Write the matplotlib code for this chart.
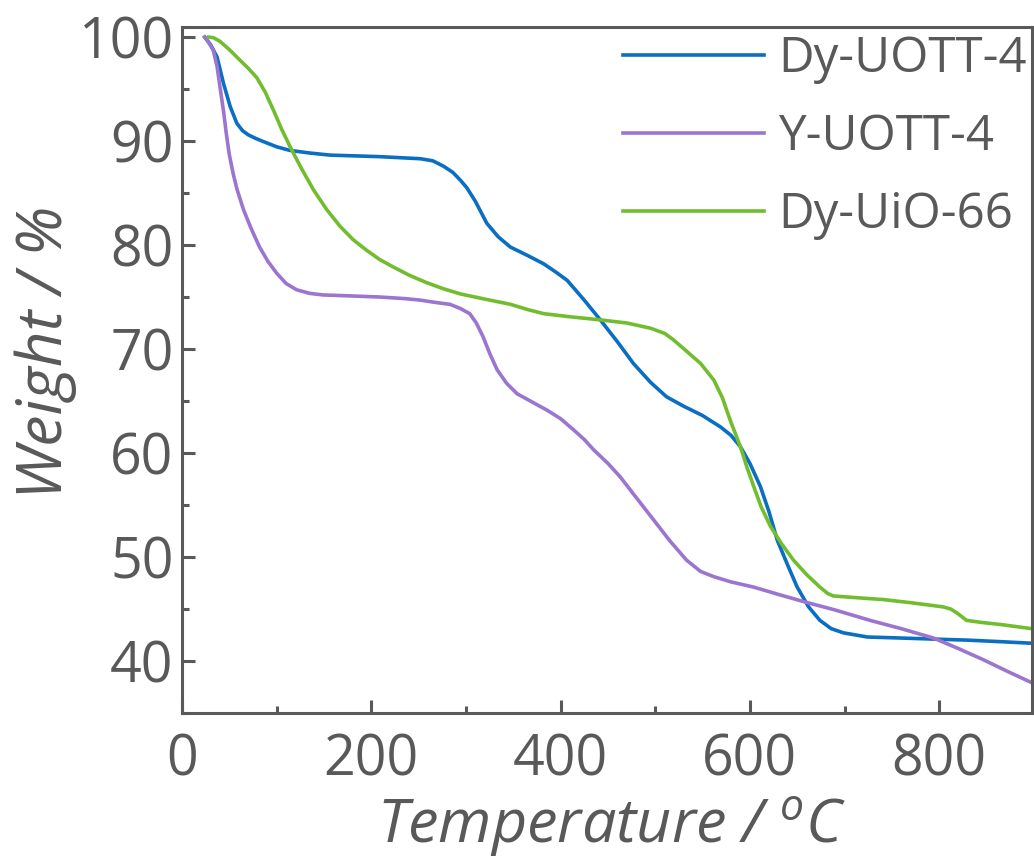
import numpy as np
import matplotlib
matplotlib.use('Agg')
from matplotlib import pyplot as plt
from matplotlib.ticker import MultipleLocator

plt.rcParams['font.family'] = ['Open Sans', 'DejaVu Sans']
plt.rcParams['mathtext.fontset'] = 'custom'
plt.rcParams['mathtext.it'] = 'Open Sans:italic'
plt.rcParams['mathtext.rm'] = 'Open Sans'

GRAY = '#595959'

# Dy-UOTT-4
dy_uott_t = [24, 30, 37, 44, 51, 58, 64, 70, 78, 86, 100, 114, 135, 156, 209, 252, 265, 276, 286, 294,
             301, 310, 322, 334, 347, 365, 382, 395, 407, 425, 442, 460, 477, 495, 512, 530, 550, 569,
             580, 590, 600, 611, 620, 629, 640, 650, 662, 674, 686, 699, 724, 760, 794, 830, 865, 898]
dy_uott_w = [100, 99.3, 98.1, 95.5, 93.3, 91.7, 91.0, 90.6, 90.25, 89.95, 89.45, 89.1, 88.85, 88.65, 88.5,
             88.3, 88.1, 87.6, 87, 86.25, 85.5, 84.2, 82.1, 80.8, 79.8, 79, 78.2, 77.4, 76.6, 74.7, 72.8,
             70.7, 68.6, 66.8, 65.4, 64.5, 63.6, 62.5, 61.7, 60.6, 59, 56.8, 54.4, 51.6, 49.2, 47.1, 45.2,
             43.9, 43.1, 42.7, 42.3, 42.2, 42.1, 42, 41.85, 41.7]

# Y-UOTT-4
y_uott_t = [24, 28, 33, 37, 40, 44, 47, 50, 54, 58, 65, 73, 82, 91, 100, 110, 121, 135, 149, 180, 209,
            235, 252, 270, 283, 294, 304, 311, 318, 325, 333, 343, 354, 370, 386, 400, 414, 425, 435,
            450, 463, 480, 498, 515, 533, 548, 562, 580, 604, 630, 657, 690, 727, 760, 794, 820, 847,
            872, 898]
y_uott_w = [100, 99.5, 98.75, 97.2, 95.3, 92.8, 90.6, 88.7, 86.9, 85.4, 83.4, 81.6, 79.8, 78.4, 77.3,
            76.3, 75.7, 75.35, 75.2, 75.1, 75.0, 74.85, 74.7, 74.45, 74.3, 73.9, 73.4, 72.5, 71.2, 69.6,
            68, 66.7, 65.7, 64.9, 64.1, 63.3, 62.2, 61.3, 60.3, 59, 57.7, 55.7, 53.6, 51.6, 49.7, 48.6,
            48.1, 47.6, 47.1, 46.4, 45.7, 44.9, 43.9, 43.1, 42.2, 41.2, 40.1, 39.0, 37.9]

# Dy-UiO-66
dy_uio_t = [28, 33, 40, 50, 61, 70, 79, 88, 96.5, 105, 114, 126, 139, 153, 167, 181, 195, 209, 223, 240,
            258, 276, 294, 320, 347, 365, 382, 410, 442, 470, 495, 510, 519, 533, 548, 562, 571, 579,
            590, 597, 604, 612, 622, 634, 646, 660, 674, 682, 688, 710, 741, 770, 804, 812, 819, 829,
            845, 865, 898]
dy_uio_w = [100, 99.95, 99.6, 98.8, 97.8, 97.0, 96.1, 94.7, 93.0, 91.2, 89.5, 87.4, 85.3, 83.4, 81.8,
            80.5, 79.5, 78.6, 77.9, 77.1, 76.4, 75.8, 75.3, 74.8, 74.3, 73.8, 73.4, 73.1, 72.8, 72.5, 72,
            71.5, 70.9, 69.8, 68.6, 67, 65.3, 63.2, 60.6, 58.6, 56.8, 54.8, 52.9, 51.2, 49.7, 48.3, 47.1,
            46.5, 46.25, 46.1, 45.9, 45.6, 45.2, 45.0, 44.6, 43.9, 43.7, 43.5, 43.1]

labels = ['Dy-UOTT-4', 'Y-UOTT-4', 'Dy-UiO-66']
colors = ['#0A6FC2', '#9B75CF', '#72BD2F']

fig = plt.figure(figsize=(10.34, 8.61), dpi=100)
ax = fig.add_axes([0.176, 0.172, 0.822, 0.797])

ax.plot(dy_uott_t, dy_uott_w, color=colors[0], lw=2.6, label=labels[0])
ax.plot(y_uott_t, y_uott_w, color=colors[1], lw=2.6, label=labels[1])
ax.plot(dy_uio_t, dy_uio_w, color=colors[2], lw=2.6, label=labels[2])

ax.set_xlim(0, 898)
ax.set_ylim(35, 101)
ax.xaxis.set_major_locator(MultipleLocator(200))
ax.xaxis.set_minor_locator(MultipleLocator(100))
ax.yaxis.set_minor_locator(MultipleLocator(5))
ax.set_yticks(np.arange(40, 101, 10))

for s in ax.spines.values():
    s.set_color(GRAY)
    s.set_linewidth(2.2)
ax.tick_params(which='both', direction='in', color=GRAY, width=2.2, labelcolor=GRAY, labelsize=40)
ax.tick_params(which='major', length=9.5)
ax.tick_params(which='minor', length=5)
ax.tick_params(axis='x', pad=14)
ax.tick_params(axis='y', pad=6)

ax.set_xlabel(r'Temperature / $^{\mathit{o}}$C', fontsize=44, style='italic', color=GRAY, labelpad=4)
ax.set_ylabel('Weight / %', fontsize=45, style='italic', color=GRAY, labelpad=1)
ax.xaxis.label.set_x(0.505)
ax.yaxis.label.set_y(0.526)

leg = ax.legend(loc='upper right', bbox_to_anchor=(1.006, 1.003), frameon=False, fontsize=35.5,
                handlelength=2.85, handletextpad=0.3, labelspacing=0.58, borderaxespad=0.0,
                borderpad=0.2)
for t in leg.get_texts():
    t.set_color(GRAY)

fig.savefig('out.png', dpi=100)
